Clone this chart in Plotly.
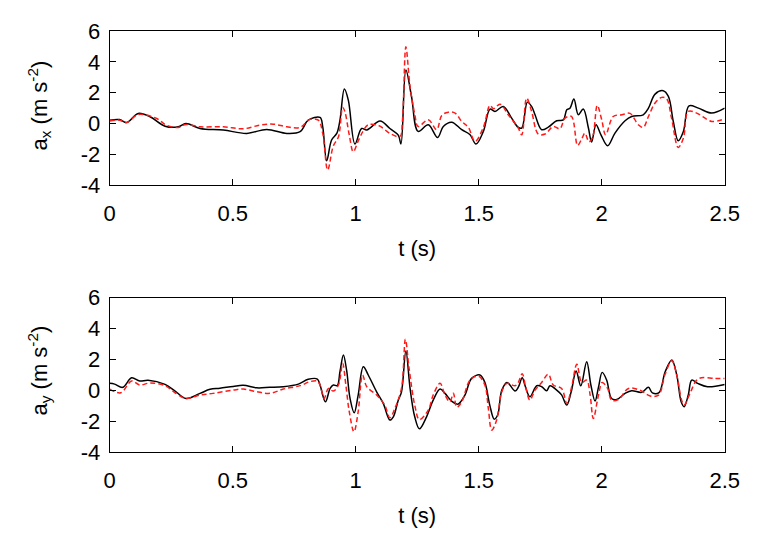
import plotly.graph_objects as go

# ---- top panel: a_x ----
ax_black_t = [0, 0.04, 0.069, 0.116, 0.164, 0.225, 0.279, 0.31, 0.367, 0.462, 0.557, 0.638, 0.72, 0.774,
              0.807, 0.855, 0.866, 0.882, 0.902, 0.923, 0.936, 0.954, 0.97, 0.997, 1.024, 1.045, 1.099,
              1.139, 1.173, 1.184, 1.204, 1.227, 1.254, 1.295, 1.333, 1.356, 1.39, 1.431, 1.465, 1.489,
              1.519, 1.546, 1.566, 1.6, 1.634, 1.66, 1.675, 1.698, 1.715, 1.729, 1.756, 1.783, 1.817,
              1.844, 1.858, 1.871, 1.887, 1.905, 1.925, 1.946, 1.959, 1.977, 1.997, 2.024, 2.054, 2.095,
              2.122, 2.169, 2.19, 2.217, 2.25, 2.271, 2.291, 2.311, 2.332, 2.355, 2.393, 2.447, 2.5]
ax_black_v = [0.21, 0.25, 0.06, 0.65, 0.43, -0.18, -0.22, 0.0, -0.33, -0.43, -0.65, -0.39, -0.65, -0.54,
              0.21, 0.39, -0.22, -2.43, -1.08, -0.65, 0.21, 2.23, 1.51, -1.34, -0.33, -0.43, 0.15,
              -0.33, -0.76, -1.34, 3.46, 1.73, -0.52, -0.09, -0.91, -0.2, 0.08, -0.41, -0.74, -1.34,
              -0.52, 0.93, 0.78, 1.1, 0.34, -0.25, -0.3, 1.38, 1.1, 0.56, -0.41, -0.24, 0.17,
              0.23, 0.88, 0.99, 1.58, 0.56, 0.93, -0.3, -1.21, -0.09, -0.74, -1.45, -0.63, 0.17,
              0.45, 0.56, 0.99, 1.9, 2.12, 1.75, 0.13, -1.13, -0.52, 1.14, 0.99, 0.67, 0.99]

ax_red_t = [0, 0.04, 0.069, 0.116, 0.191, 0.23, 0.279, 0.31, 0.367, 0.462, 0.543, 0.611, 0.665, 0.72,
            0.774, 0.814, 0.848, 0.866, 0.886, 0.909, 0.93, 0.947, 0.956, 0.974, 0.99, 1.01, 1.03,
            1.05, 1.095, 1.139, 1.18, 1.19, 1.204, 1.221, 1.24, 1.254, 1.295, 1.329, 1.35, 1.377,
            1.404, 1.431, 1.458, 1.485, 1.519, 1.546, 1.56, 1.587, 1.62, 1.661, 1.675, 1.695, 1.715,
            1.742, 1.77, 1.803, 1.83, 1.851, 1.877, 1.902, 1.919, 1.932, 1.948, 1.963, 1.982, 2.0,
            2.016, 2.047, 2.082, 2.115, 2.149, 2.169, 2.19, 2.217, 2.244, 2.264, 2.284, 2.311, 2.332,
            2.352, 2.386, 2.447, 2.5]
ax_red_v = [0.15, 0.21, 0.05, 0.58, 0.32, -0.11, -0.26, -0.07, -0.22, -0.22, -0.35, -0.11, -0.05, -0.22,
            -0.26, 0.26, 0.21, -0.65, -3.03, -1.47, -0.87, 1.04, 0.76, -0.76, -1.84, -1.15, -0.5,
            -0.1, -0.15, -0.65, -0.85, 0.2, 4.97, 2.38, 0.6, -0.2, 0.24, -0.41, 0.52, 0.73,
            0.67, 0.13, -0.26, -1.17, -0.26, 1.17, 0.95, 1.25, 0.56, -0.3, -0.74, 1.64, 0.78,
            -0.69, -0.69, -0.2, -0.35, 0.34, 0.45, -1.43, -1.0, -0.63, -1.2, -0.9, 1.17, 0.24,
            -0.74, 0.45, 0.56, 0.65, -0.09, -0.26, 0.45, 1.32, 1.69, 1.6, 0.34, -1.56, -0.96,
            0.78, 0.67, 0.13, 0.3]

# ---- bottom panel: a_y ----
ay_black_t = [0, 0.02, 0.053, 0.089, 0.122, 0.156, 0.225, 0.266, 0.31, 0.367, 0.408, 0.448, 0.502, 0.543,
              0.597, 0.651, 0.706, 0.767, 0.807, 0.844, 0.855, 0.877, 0.896, 0.909, 0.925, 0.936, 0.95,
              0.963, 0.977, 0.994, 1.01, 1.031, 1.051, 1.085, 1.112, 1.139, 1.153, 1.173, 1.186, 1.204,
              1.221, 1.24, 1.259, 1.288, 1.315, 1.343, 1.363, 1.39, 1.415, 1.444, 1.471, 1.505, 1.525,
              1.545, 1.563, 1.577, 1.594, 1.615, 1.648, 1.661, 1.677, 1.688, 1.708, 1.736, 1.756, 1.776,
              1.79, 1.817, 1.837, 1.858, 1.876, 1.896, 1.915, 1.939, 1.956, 1.973, 1.987, 2.002, 2.02,
              2.04, 2.061, 2.095, 2.122, 2.163, 2.19, 2.206, 2.233, 2.258, 2.285, 2.305, 2.323, 2.335,
              2.352, 2.366, 2.39, 2.43, 2.5]
ay_black_v = [0.45, 0.4, 0.19, 0.81, 0.6, 0.65, 0.38, -0.05, -0.53, -0.2, 0.06, 0.13, 0.25, 0.32,
              0.16, 0.19, 0.23, 0.4, 0.71, 0.73, 0.34, -0.75, 0.12, 0.34, 0.3, 1.2, 2.29,
              1.3, -0.53, -1.46, -0.31, 1.53, 0.99, -0.1, -0.85, -1.93, -1.72, -0.64, -0.12, 2.55,
              0.12, -1.72, -2.5, -1.72, -0.64, 0.08, -0.2, -0.7, -0.9, -0.31, 0.77, 0.99, 0.51,
              -0.96, -1.87, -1.6, 0.01, 0.51, -0.05, 0.2, 0.81, 0.32, -0.42, 0.29, 0.23, -0.03,
              0.29, 0.01, -0.3, -0.96, -0.1, 1.25, 0.29, 1.85, 0.34, -0.7, 0.2, 1.16, 0.67,
              -0.53, -0.6, -0.2, -0.03, -0.13, 0.19, -0.17, -0.15, 1.2, 1.96, 1.0, -0.75, -1.07,
              -0.3, 0.66, 0.45, 0.23, 0.38]

ay_red_t = [0, 0.045, 0.089, 0.122, 0.163, 0.225, 0.266, 0.31, 0.367, 0.42, 0.502, 0.543, 0.597, 0.651,
            0.706, 0.774, 0.814, 0.844, 0.855, 0.872, 0.889, 0.909, 0.93, 0.947, 0.96, 0.974, 0.993,
            1.01, 1.028, 1.045, 1.085, 1.118, 1.139, 1.159, 1.186, 1.202, 1.217, 1.24, 1.259, 1.295,
            1.315, 1.343, 1.363, 1.383, 1.397, 1.411, 1.431, 1.465, 1.499, 1.525, 1.539, 1.553, 1.573,
            1.594, 1.615, 1.648, 1.661, 1.677, 1.691, 1.708, 1.729, 1.756, 1.783, 1.803, 1.837, 1.858,
            1.878, 1.899, 1.919, 1.939, 1.953, 1.966, 1.987, 2.002, 2.024, 2.04, 2.068, 2.109, 2.156,
            2.197, 2.231, 2.258, 2.285, 2.305, 2.325, 2.335, 2.359, 2.386, 2.406, 2.46, 2.5]
ay_red_v = [0.08, -0.16, 0.6, 0.34, 0.47, 0.3, -0.16, -0.53, -0.31, -0.2, 0.01, 0.08, -0.09, -0.2,
            0.08, 0.3, 0.56, 0.6, 0.34, -0.53, 0.12, -0.05, 0.34, 1.74, 0.34, -1.4, -2.69,
            -1.4, 0.99, 0.23, -0.31, -0.96, -1.78, -1.18, 0.12, 3.3, 1.42, -0.96, -1.9, -1.28,
            -0.31, 0.45, -0.31, -0.75, -0.2, -1.1, -0.75, 0.66, 0.92, 0.34, -1.15, -2.58, -1.93,
            -0.1, 0.45, 0.29, 0.51, 1.07, 0.2, -0.64, 0.01, 0.51, 1.05, 0.34, 0.12, -0.85,
            0.23, 1.68, 0.51, 0.66, -0.31, -1.83, -0.31, 0.51, 0.12, -0.64, -0.6, 0.12, 0.0,
            -0.37, -0.31, 1.05, 1.92, 0.99, -0.64, -0.96, -0.2, 0.66, 0.81, 0.77, 0.77]

x_ticks = [0, 0.5, 1, 1.5, 2, 2.5]
x_tick_labels = ["0", "0.5", "1", "1.5", "2", "2.5"]
y_ticks = [-4, -2, 0, 2, 4, 6]
y_tick_labels = ["-4", "-2", "0", "2", "4", "6"]
y_titles = ["a<sub>x</sub> (m s<sup>-2</sup>)", "a<sub>y</sub> (m s<sup>-2</sup>)"]

FONT = "Liberation Sans, Arial, Helvetica, sans-serif"
FS = 22

fig = go.Figure()
black_line = dict(color="black", width=1.5)
red_line = dict(color="#ff1a1a", width=1.5, dash="5px,3px")

fig.add_trace(go.Scatter(x=ax_black_t, y=ax_black_v, mode="lines", line=black_line,
                         line_shape="spline", xaxis="x", yaxis="y", showlegend=False))
fig.add_trace(go.Scatter(x=ax_red_t, y=ax_red_v, mode="lines", line=red_line,
                         line_shape="spline", xaxis="x", yaxis="y", showlegend=False))
fig.add_trace(go.Scatter(x=ay_black_t, y=ay_black_v, mode="lines", line=black_line,
                         line_shape="spline", xaxis="x2", yaxis="y2", showlegend=False))
fig.add_trace(go.Scatter(x=ay_red_t, y=ay_red_v, mode="lines", line=red_line,
                         line_shape="spline", xaxis="x2", yaxis="y2", showlegend=False))

W, H = 763, 534
OFF = 8  # page body margin
xdom = [(109.7 - OFF) / W, (724.7 - OFF) / W]
ydom_top = [1 - (185 - OFF) / H, 1 - (31 - OFF) / H]
ydom_bot = [1 - (452 - OFF) / H, 1 - (297.7 - OFF) / H]

def xaxis(anchor):
    return dict(domain=xdom, range=[0, 2.5], anchor=anchor, tickvals=x_ticks, ticktext=x_tick_labels,
                ticks="inside", ticklen=6, tickcolor="black", showline=True, linecolor="black",
                linewidth=1, mirror="ticks", showgrid=False, zeroline=False, automargin=False,
                ticklabelstandoff=9,
                tickfont=dict(family=FONT, size=FS, color="black"),
                title=dict(text="t (s)", font=dict(family=FONT, size=FS, color="black"), standoff=15))

def yaxis(anchor, dom):
    return dict(domain=dom, range=[-4, 6], anchor=anchor, tickvals=y_ticks, ticktext=y_tick_labels,
                ticks="inside", ticklen=6, tickcolor="black", showline=True, linecolor="black",
                linewidth=1, mirror="ticks", showgrid=False, zeroline=False, automargin=False,
                ticklabelstandoff=4,
                tickfont=dict(family=FONT, size=FS, color="black"))

annots = []
for title, yc in zip(y_titles, [106, 371]):
    annots.append(dict(text=title, xref="paper", yref="paper", x=(38.5 - OFF) / W,
                       y=1 - (yc - OFF) / H, xanchor="center", yanchor="middle",
                       textangle=-90, showarrow=False,
                       font=dict(family=FONT, size=FS, color="black")))

fig.update_layout(
    width=W, height=H,
    margin=dict(l=0, r=0, t=0, b=0),
    paper_bgcolor="white", plot_bgcolor="white",
    xaxis=xaxis("y"),
    yaxis=yaxis("x", ydom_top),
    xaxis2=xaxis("y2"),
    yaxis2=yaxis("x2", ydom_bot),
    annotations=annots,
)

fig.write_html("out.html")
